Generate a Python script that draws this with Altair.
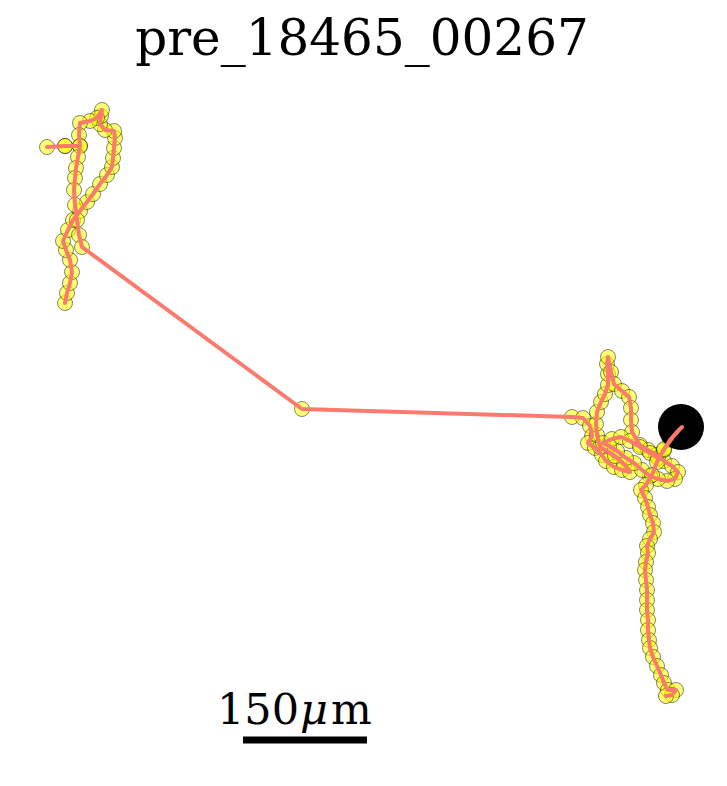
import altair as alt
import pandas as pd

# Track positions (image pixel units of the recording; 150 um = 124 units)
track_x = [65, 67, 70, 72, 70, 66, 63, 68, 73, 80, 87, 93, 100, 107, 112, 113, 114, 115, 114, 105,
           100, 101, 102, 97, 90, 80, 79, 80, 65, 47, 65, 80, 78, 76, 75, 74, 75, 77, 79, 82,
           302,
           572, 583, 590, 592, 588, 595, 602, 606, 614, 622, 630, 624, 615,
           600, 597, 596, 597, 601, 605, 608, 608, 607, 608,
           611, 614, 622, 629, 631, 631, 632,
           640, 648, 656, 664, 672, 678, 675, 667, 658, 650, 642, 634, 626, 617, 609, 603, 612, 621,
           630, 640, 650, 658,
           664, 670, 676, 682, 673, 664, 657, 652, 646, 641,
           645, 648, 650, 653, 654, 650, 647, 648, 646, 645, 646, 647, 647, 647, 648, 648, 649, 650,
           653, 657, 661, 664, 668, 676, 672, 666]
track_y = [303, 293, 283, 272, 260, 250, 241, 230, 220, 211, 202, 194, 184, 175, 167, 158, 148, 138, 131, 130,
           124, 116, 110, 118, 121, 123, 135, 146, 146, 147, 146, 146, 157, 168, 178, 190, 205, 220, 235, 247,
           409,
           417, 418, 426, 436, 443, 448, 455, 461, 467, 470, 472, 464, 456,
           447, 435, 424, 412, 402, 394, 385, 374, 364, 357,
           372, 384, 391, 397, 408, 420, 432,
           445, 450, 455, 461, 466, 472, 479, 481, 479, 476, 470, 463, 458, 451, 446, 443, 439, 437,
           441, 447, 453, 458,
           450, 440, 433, 427, 437, 449, 462, 475, 485, 490,
           498, 507, 515, 523, 532, 539, 546, 553, 562, 570, 580, 590, 600, 610, 620, 630, 640, 648,
           657, 666, 675, 683, 690, 690, 695, 696]

# Marker for the cell (black disc)
cell_x = [681]
cell_y = [427]

# Scale bar endpoints and label
bar_x = [243, 367]
bar_y = [740, 740]
bar_label = ["150", "\u03bc", "m"]
title_text = "pre_18465_00267"

track = pd.DataFrame({"x": track_x, "y": track_y, "order": list(range(len(track_x)))})
cell = pd.DataFrame({"x": cell_x, "y": cell_y})
bar = pd.DataFrame({"x": [bar_x[0]], "x2": [bar_x[1]], "y": [bar_y[0]]})

xs = alt.Scale(domain=[8, 719], nice=False, zero=False)
ys = alt.Scale(domain=[8, 778], nice=False, zero=False, reverse=True)

points = alt.Chart(track).mark_circle(
    size=225, fill="#ffff00", fillOpacity=0.55, stroke="#000000", strokeWidth=0.8, strokeOpacity=0.6
).encode(
    x=alt.X("x:Q", scale=xs, axis=None),
    y=alt.Y("y:Q", scale=ys, axis=None),
)

cell_mark = alt.Chart(cell).mark_circle(size=2116, color="black", opacity=1).encode(
    x=alt.X("x:Q", scale=xs, axis=None),
    y=alt.Y("y:Q", scale=ys, axis=None),
)

path = alt.Chart(track).mark_line(color="#fa7a6e", strokeWidth=4, strokeJoin="round", strokeCap="round").encode(
    x=alt.X("x:Q", scale=xs, axis=None),
    y=alt.Y("y:Q", scale=ys, axis=None),
    order="order:Q",
)

scale_bar = alt.Chart(bar).mark_rule(color="black", strokeWidth=7).encode(
    x=alt.X("x:Q", scale=xs, axis=None),
    x2="x2:Q",
    y=alt.Y("y:Q", scale=ys, axis=None),
)


def label_part(text, xpos, style="normal"):
    return alt.Chart(bar).mark_text(
        text=text, font="DejaVu Serif", fontSize=43, fontStyle=style,
        baseline="alphabetic", align="left", color="black"
    ).encode(x=alt.value(xpos), y=alt.value(716))


scale_text = alt.layer(
    label_part(bar_label[0], 209),
    label_part(bar_label[1], 292, "italic"),
    label_part(bar_label[2], 323),
)

title = alt.Chart(bar).mark_text(
    text=title_text, font="DejaVu Serif", fontSize=50, baseline="alphabetic", align="center", color="black"
).encode(
    x=alt.value(354),
    y=alt.value(47),
)

chart = alt.layer(points, cell_mark, path, scale_bar, scale_text, title).properties(
    width=711, height=770, padding=0, autosize=alt.AutoSizeParams(type="none")
).configure_view(stroke=None)

chart.save("out.html", embed_options={"renderer": "svg", "actions": False})
